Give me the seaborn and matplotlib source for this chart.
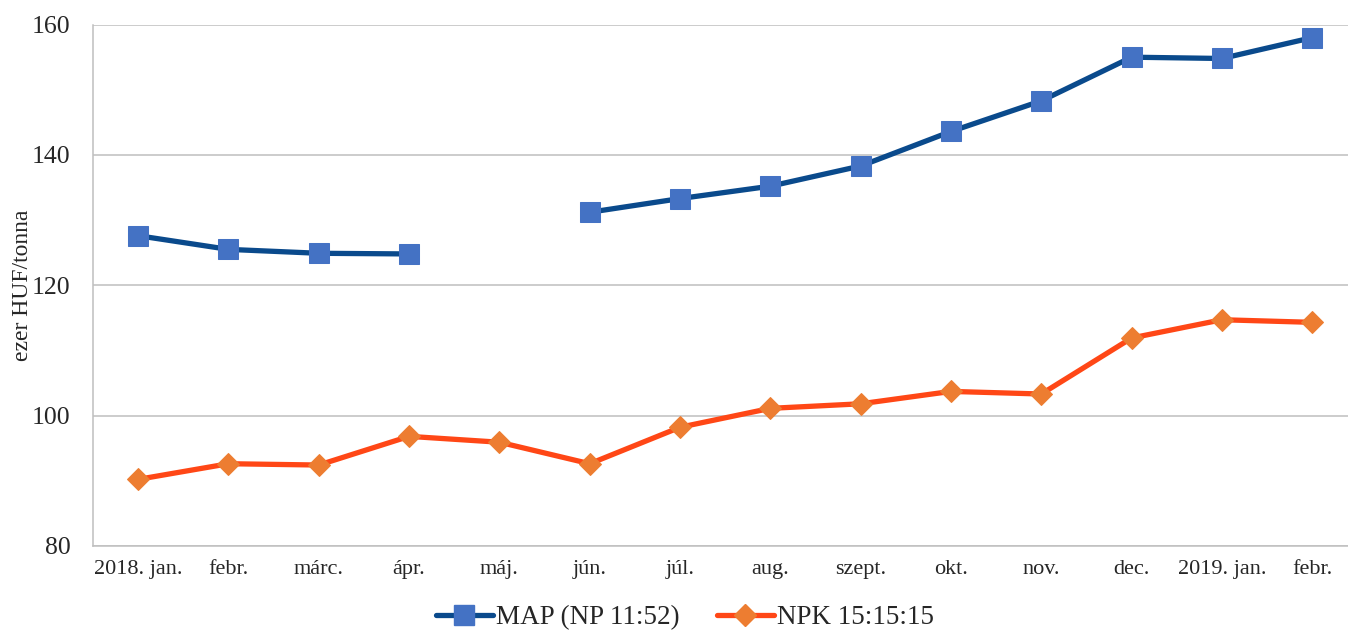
import matplotlib
matplotlib.use("Agg")
import matplotlib.pyplot as plt
from matplotlib.lines import Line2D
import numpy as np
import pandas as pd
import seaborn as sns

months = ["2018. jan.", "febr.", "márc.", "ápr.", "máj.", "jún.", "júl.",
          "aug.", "szept.", "okt.", "nov.", "dec.", "2019. jan.", "febr."]
map_np = [127.6, 125.5, 124.9, 124.8, np.nan, 131.2, 133.3,
          135.2, 138.3, 143.6, 148.3, 155.0, 154.8, 158.0]
npk = [90.2, 92.6, 92.4, 96.8, 95.9, 92.6, 98.2,
       101.1, 101.8, 103.7, 103.3, 111.9, 114.7, 114.3]

sns.set_theme(style="white")
plt.rcParams["font.family"] = ["Liberation Serif", "DejaVu Serif"]

df = pd.DataFrame({"x": range(len(months)), "map": map_np, "npk": npk})
# MAP has a gap in máj., so draw the two pieces separately
df["seg"] = df["map"].isna().cumsum()

fig = plt.figure(figsize=(13.48, 6.31), dpi=100)
ax = fig.add_axes([0.069, 0.135, 0.938, 0.826])

for _, part in df.dropna(subset=["map"]).groupby("seg"):
    sns.lineplot(data=part, x="x", y="map", ax=ax, color="#0A4A8C", lw=3.8,
                 marker="s", markersize=14, markerfacecolor="#4472C4",
                 markeredgecolor="#4472C4", zorder=3)
sns.lineplot(data=df, x="x", y="npk", ax=ax, color="#FF4716", lw=3.8,
             marker="D", markersize=11, markerfacecolor="#ED7D31",
             markeredgecolor="#ED7D31", zorder=3)

ax.set_xlim(-0.5, len(months) - 0.5)
ax.set_ylim(80, 160)
ax.set_yticks([80, 100, 120, 140, 160])
ax.set_xticks(range(len(months)))
ax.set_xticklabels(months, fontsize=16)
ax.tick_params(axis="y", labelsize=18.5, length=0, pad=16)
ax.tick_params(axis="x", length=0, pad=10)
ax.yaxis.grid(True, color="#BFBFBF", lw=1.1)
ax.set_xlabel("")
ax.set_ylabel("ezer HUF/tonna", fontsize=17)
ax.yaxis.set_label_coords(-0.0475, 0.5)
for s in ["top", "right"]:
    ax.spines[s].set_visible(False)
for s in ["left", "bottom"]:
    ax.spines[s].set_color("#BFBFBF")
    ax.spines[s].set_linewidth(1.1)

handles = [
    Line2D([], [], color="#0A4A8C", lw=3.8, marker="s", markersize=14,
           markerfacecolor="#4472C4", markeredgecolor="#4472C4"),
    Line2D([], [], color="#FF4716", lw=3.8, marker="D", markersize=11,
           markerfacecolor="#ED7D31", markeredgecolor="#ED7D31"),
]
fig.legend(handles, ["MAP (NP 11:52)", "NPK 15:15:15"], loc="center",
           bbox_to_anchor=(0.508, 0.021), ncol=2, frameon=False, fontsize=19.5,
           handlelength=2.1, handletextpad=0.1, columnspacing=1.4)

fig.savefig("out.png", dpi=100)
